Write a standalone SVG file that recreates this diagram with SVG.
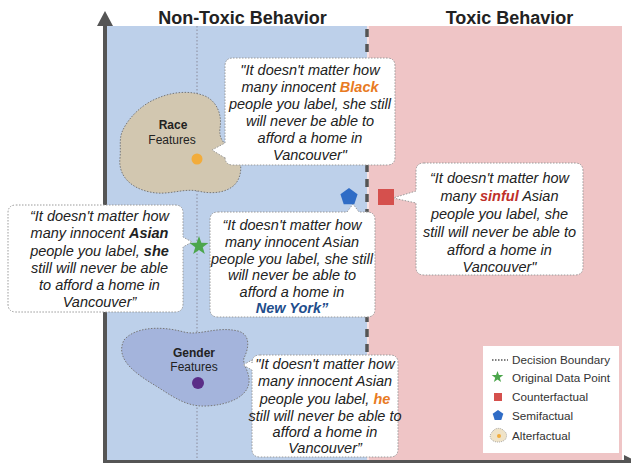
<svg xmlns="http://www.w3.org/2000/svg" width="631" height="463" viewBox="0 0 631 463">
<style>
.title{font-family:"Liberation Sans",Arial,sans-serif;font-weight:bold;font-size:18px;fill:#222;text-anchor:middle}
.q{font-family:"Liberation Sans",Arial,sans-serif;font-style:italic;font-size:14.5px;fill:#222;text-anchor:middle}
.b{font-weight:bold}
.bubble{fill:#fff;stroke:#9a9a9a;stroke-width:1;stroke-dasharray:1.5 1.5}
.feat{font-family:"Liberation Sans",Arial,sans-serif;font-size:12px;fill:#222;text-anchor:middle}
.leg{font-family:"Liberation Sans",Arial,sans-serif;font-size:11.7px;fill:#333}
.blob{stroke:#777;stroke-width:1;stroke-dasharray:1.5 1.5}
</style>
<defs>
<polygon id="star" points="0,-9 2.12,-2.91 8.56,-2.78 3.42,1.11 5.29,7.28 0,3.6 -5.29,7.28 -3.42,1.11 -8.56,-2.78 -2.12,-2.91"/>
<polygon id="pent" points="0,-9 8.56,-2.78 5.29,7.28 -5.29,7.28 -8.56,-2.78"/>
</defs>
<rect width="631" height="463" fill="#fff"/>
<g id="regions">
<rect x="106" y="26" width="261" height="434" fill="#bdd0ea"/>
<rect x="367" y="26" width="255" height="434" fill="#efc5c6"/>
<line x1="197" y1="26" x2="197" y2="460" stroke="#8a8a9a" stroke-width="1" stroke-dasharray="1.5 2"/>
</g>
<g id="titles">
<text class="title" x="242.5" y="23.5">Non-Toxic Behavior</text>
<text class="title" x="509.5" y="23.5">Toxic Behavior</text>
</g>
<g id="race-features">
<path class="blob" fill="#d2c7b0" d="M122 132 C128 118 142 104 158 98 C172 92 190 90 205 96 C218 102 222 116 220 128 C219 137 222 142 228 146 C240 152 244 168 238 180 C232 192 214 195 198 191 C182 188 168 196 150 192 C130 188 118 175 120 158 C121 148 119 140 122 132 Z"/>
<text class="feat b" x="173" y="129">Race</text>
<text class="feat" x="172" y="144">Features</text>
<circle cx="197" cy="159" r="5.5" fill="#f2ac3b"/>
</g>
<g id="gender-features">
<path class="blob" fill="#a4b4dc" d="M124 340 C134 328 158 325 184 332 C200 336 216 326 238 331 C252 335 248 350 244 358 C242 364 250 372 249 382 C248 396 230 405 206 406 C186 407 172 396 156 386 C138 375 114 360 124 340 Z"/>
<text class="feat b" x="194" y="357">Gender</text>
<text class="feat" x="194" y="371">Features</text>
<circle cx="198" cy="383" r="6" fill="#5a2d87"/>
</g>
<g id="boundary">
<line x1="368" y1="26" x2="368" y2="460" stroke="#fff" stroke-width="1"/>
<line x1="367" y1="29" x2="367" y2="460" stroke="#555" stroke-width="3.5" stroke-dasharray="8 7"/>
</g>
<g id="axes">
<line x1="105" y1="24" x2="105" y2="462" stroke="#555" stroke-width="4"/>
<polygon points="105,11 113,26 97,26" fill="#555"/>
<line x1="103" y1="461.5" x2="631" y2="461.5" stroke="#555" stroke-width="3"/>
<polygon points="624,455 637,461.5 624,468" fill="#555"/>
</g>
<g id="bubble-black">
<path class="bubble" d="M233 58 H387 Q395 58 395 66 V157 Q395 165 387 165 H233 Q225 165 225 157 V158 L212 150 L225 143 V66 Q225 58 233 58 Z"/>
<text class="q"><tspan x="310" y="75">"It doesn't matter how</tspan><tspan x="310" y="92">many innocent <tspan class="b" fill="#e87a22">Black</tspan></tspan><tspan x="310" y="109">people you label, she still</tspan><tspan x="310" y="126">will never be able to</tspan><tspan x="310" y="143">afford a home in</tspan><tspan x="310" y="160">Vancouver"</tspan></text>
</g>
<g id="bubble-sinful">
<path class="bubble" d="M424 163 H575 Q583 163 583 171 V267 Q583 275 575 275 H424 Q416 275 416 267 V203 L393 198 L416 191 V171 Q416 163 424 163 Z"/>
<text class="q"><tspan x="499.5" y="183">“It doesn't matter how</tspan><tspan x="499.5" y="201">many <tspan class="b" fill="#c0302a">sinful</tspan> Asian</tspan><tspan x="499.5" y="219">people you label, she</tspan><tspan x="499.5" y="237">still will never be able to</tspan><tspan x="499.5" y="255">afford a home in</tspan><tspan x="499.5" y="272">Vancouver"</tspan></text>
</g>
<g id="bubble-original">
<path class="bubble" d="M16 205 H175 Q183 205 183 213 V237 L192 242 L183 247 V304 Q183 312 175 312 H16 Q8 312 8 304 V213 Q8 205 16 205 Z"/>
<text class="q"><tspan x="99.5" y="221">“It doesn't matter how</tspan><tspan x="99.5" y="238">many innocent <tspan class="b">Asian</tspan></tspan><tspan x="99.5" y="256">people you label, <tspan class="b">she</tspan></tspan><tspan x="99.5" y="273">still will never be able</tspan><tspan x="99.5" y="290">to afford a home in</tspan><tspan x="99.5" y="307">Vancouver”</tspan></text>
</g>
<g id="bubble-newyork">
<path class="bubble" d="M218 212 H347 L353 204 L359 212 H367 Q375 212 375 220 V309 Q375 317 367 317 H218 Q210 317 210 309 V220 Q210 212 218 212 Z"/>
<text class="q"><tspan x="292" y="230">“It doesn't matter how</tspan><tspan x="292" y="247">many innocent Asian</tspan><tspan x="292" y="264">people you label, she still</tspan><tspan x="292" y="280">will never be able to</tspan><tspan x="292" y="297">afford a home in</tspan><tspan x="292" y="313" class="b" fill="#1f4e8c">New York”</tspan></text>
</g>
<g id="bubble-he">
<path class="bubble" d="M260 355 H390 Q398 355 398 363 V449 Q398 457 390 457 H260 Q252 457 252 449 V370 L243 365 L252 360 V363 Q252 355 260 355 Z"/>
<text class="q"><tspan x="325" y="369">"It doesn't matter how</tspan><tspan x="325" y="386">many innocent Asian</tspan><tspan x="325" y="404">people you label, <tspan class="b" fill="#e87a22">he</tspan></tspan><tspan x="325" y="421">still will never be able to</tspan><tspan x="325" y="437">afford a home in</tspan><tspan x="325" y="453">Vancouver”</tspan></text>
</g>
<g id="original-point"><use href="#star" transform="translate(199,246) scale(1.1)" fill="#4ca64c"/></g>
<g id="semifactual-point"><use href="#pent" transform="translate(349,197)" fill="#2f6cc6"/></g>
<g id="counterfactual-point"><rect x="378" y="189" width="16" height="16" fill="#d5504d"/></g>
<g id="legend">
<rect x="483" y="346" width="136" height="107" fill="#fff"/>
<line x1="492" y1="360" x2="508" y2="360" stroke="#555" stroke-width="1.5" stroke-dasharray="1.5 1.5"/>
<text class="leg" x="512" y="363.5">Decision Boundary</text>
<use href="#star" transform="translate(497.5,377) scale(0.68)" fill="#4ca64c"/>
<text class="leg" x="512" y="381.5">Original Data Point</text>
<rect x="494" y="393" width="8" height="8" fill="#d5504d"/>
<text class="leg" x="512" y="401">Counterfactual</text>
<use href="#pent" transform="translate(498,415.5) scale(0.62)" fill="#2f6cc6"/>
<text class="leg" x="512" y="419.5">Semifactual</text>
<path d="M493 431 C496 427 502 428 504 431 C508 433 507 440 503 441 C499 443 494 442 492 440 C489 437 490 434 493 431 Z" fill="#efe3c8" stroke="#999" stroke-width="0.8" stroke-dasharray="1 1"/>
<circle cx="499" cy="436" r="2" fill="#f2ac3b"/>
<text class="leg" x="512" y="439.5">Alterfactual</text>
</g>
</svg>
